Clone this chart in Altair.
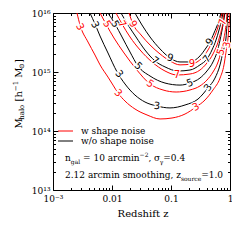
import altair as alt
import pandas as pd

# ---------------- axis ticks ----------------
x_major = [0.001, 0.01, 0.1, 1]
x_major_labels = ["10⁻³", "0.01", "0.1", "1"]
x_minor = [0.002, 0.003, 0.004, 0.005, 0.006, 0.007, 0.008, 0.009,
           0.02, 0.03, 0.04, 0.05, 0.06, 0.07, 0.08, 0.09,
           0.2, 0.3, 0.4, 0.5, 0.6, 0.7, 0.8, 0.9]
y_major = [1e13, 1e14, 1e15, 1e16]
y_major_labels = ["10¹³", "10¹⁴", "10¹⁵", "10¹⁶"]
y_minor = [2e13, 3e13, 4e13, 5e13, 6e13, 7e13, 8e13, 9e13,
           2e14, 3e14, 4e14, 5e14, 6e14, 7e14, 8e14, 9e14,
           2e15, 3e15, 4e15, 5e15, 6e15, 7e15, 8e15, 9e15]

# ---------------- contour curves ----------------
red3_z = [0.00255, 0.00287, 0.00392, 0.00515, 0.00627, 0.00855, 0.0104, 0.01265, 0.0166, 0.0245, 0.0392, 0.0652,
          0.104, 0.173, 0.265, 0.377, 0.515, 0.678, 0.791, 0.855, 0.925, 0.962, 1.0]
red3_M = [1e16, 6.27e15, 3.22e15, 1.94e15, 1.32e15, 8.2e14, 6.0e14, 4.4e14, 3.22e14, 2.36e14, 1.87e14, 1.6e14,
          1.66e14, 1.94e14, 2.55e14, 3.35e14, 4.96e14, 7.9e14, 1.32e15, 2.18e15, 3.77e15, 6.27e15, 1e16]

black3_z = [0.00424, 0.00515, 0.00627, 0.00855, 0.0122, 0.0166, 0.0245, 0.0362, 0.0579, 0.0961, 0.173, 0.287,
            0.424, 0.557, 0.678, 0.760, 0.855, 0.889, 0.925]
black3_M = [1e16, 6.5e15, 4.07e15, 2.1e15, 1.0e15, 6.27e14, 4.07e14, 3.1e14, 2.65e14, 2.46e14, 2.76e14, 3.48e14,
            5.4e14, 7.9e14, 1.32e15, 2.18e15, 3.77e15, 6.27e15, 1e16]

red5_z = [0.00627, 0.0079, 0.0108, 0.016, 0.0255, 0.0441, 0.0731, 0.122, 0.21, 0.31, 0.407, 0.515, 0.627, 0.703,
          0.791, 0.855, 0.889]
red5_M = [1e16, 6.5e15, 3.77e15, 2.1e15, 1.13e15, 6.27e14, 4.96e14, 4.58e14, 4.96e14, 5.8e14, 7.3e14, 1.0e15,
          1.48e15, 2.18e15, 3.77e15, 6.27e15, 1e16]

black5_z = [0.00855, 0.01125, 0.0148, 0.0202, 0.0276, 0.0441, 0.0791, 0.142, 0.21, 0.31, 0.407, 0.515, 0.603,
            0.678, 0.760, 0.822]
black5_M = [1e16, 6.5e15, 3.92e15, 2.18e15, 1.26e15, 8.55e14, 6.5e14, 6.0e14, 6.5e14, 7.9e14, 1.04e15, 1.48e15,
            2.18e15, 3.48e15, 6.27e15, 1e16]

red7_z = [0.0117, 0.0148, 0.0202, 0.0299, 0.0476, 0.0791, 0.1265, 0.21, 0.31, 0.407, 0.515, 0.603, 0.678, 0.760,
          0.791]
red7_M = [1e16, 6.5e15, 3.92e15, 2.36e15, 1.48e15, 1.04e15, 8.9e14, 9.25e14, 1.08e15, 1.42e15, 2.02e15, 2.87e15,
          4.24e15, 7.03e15, 1e16]

black7_z = [0.0142, 0.0187, 0.0255, 0.0362, 0.0536, 0.0791, 0.1315, 0.21, 0.31, 0.407, 0.495, 0.579, 0.652,
            0.731, 0.760]
black7_M = [1e16, 6.27e15, 3.92e15, 2.36e15, 1.54e15, 1.22e15, 1.04e15, 1.08e15, 1.32e15, 1.66e15, 2.36e15,
            3.48e15, 5.15e15, 8.23e15, 1e16]

red9_z = [0.0194, 0.0227, 0.0311, 0.0441, 0.0652, 0.0961, 0.142, 0.227, 0.335, 0.424, 0.515, 0.603, 0.678, 0.731]
red9_M = [1e16, 6.5e15, 4.24e15, 2.87e15, 2.02e15, 1.54e15, 1.32e15, 1.37e15, 1.73e15, 2.36e15, 3.48e15,
          5.15e15, 7.6e15, 1e16]

black9_z = [0.0245, 0.0322, 0.0441, 0.0652, 0.0961, 0.142, 0.21, 0.31, 0.392, 0.458, 0.536, 0.627, 0.703]
black9_M = [1e16, 6.27e15, 3.92e15, 2.46e15, 1.73e15, 1.48e15, 1.48e15, 1.87e15, 2.55e15, 3.22e15, 4.58e15,
            6.78e15, 1e16]

# ---------------- contour labels ----------------
lab_text = ["3", "3", "3", "3", "3", "3", "3", "3",
            "5", "5", "5", "5", "5", "5",
            "7", "7", "7", "7", "7",
            "9", "9", "9", "9"]
lab_color = ["red", "red", "red", "red", "black", "black", "black", "black",
             "red", "red", "red", "black", "black", "black",
             "red", "red", "red", "black", "black",
             "red", "red", "black", "black"]
lab_z = [0.00287, 0.01265, 0.265, 0.89, 0.00515, 0.0132, 0.0579, 0.424,
         0.00822, 0.0441, 0.703, 0.01125, 0.0276, 0.21,
         0.0148, 0.1265, 0.76, 0.0536, 0.407,
         0.0227, 0.227, 0.0961, 0.458]
lab_M = [5.8e15, 4.4e14, 2.55e14, 2.9e15, 6.27e15, 9.25e14, 2.65e14, 5.4e14,
         6.5e15, 6.27e14, 2.18e15, 6.5e15, 1.26e15, 6.5e14,
         6.5e15, 8.9e14, 7.0e15, 1.54e15, 1.66e15,
         6.5e15, 1.37e15, 1.73e15, 3.22e15]
lab_angle = [62, 45, 330, 280, 62, 50, 5, 305,
             58, 35, 290, 58, 45, 340,
             58, 0, 285, 35, 310,
             58, 0, 15, 305]

curves = [
    ("red3", "red", red3_z, red3_M),
    ("black3", "black", black3_z, black3_M),
    ("red5", "red", red5_z, red5_M),
    ("black5", "black", black5_z, black5_M),
    ("red7", "red", red7_z, red7_M),
    ("black7", "black", black7_z, black7_M),
    ("red9", "red", red9_z, red9_M),
    ("black9", "black", black9_z, black9_M),
]
rows = []
for name, col, zs, ms in curves:
    for i, (zv, mv) in enumerate(zip(zs, ms)):
        rows.append({"curve": name, "color": col, "i": i, "z": zv, "M": mv})
df_lines = pd.DataFrame(rows)
df_lab = pd.DataFrame({"level": lab_text, "color": lab_color, "z": lab_z, "M": lab_M, "angle": lab_angle})

SERIF = "DejaVu Serif"
W = H = 177

xs = alt.Scale(type="log", domain=[0.001, 1])
ys = alt.Scale(type="log", domain=[1e13, 1e16])


def size_expr(major):
    return "indexof([" + ",".join(repr(v) for v in major) + "], datum.value) >= 0 ? -5 : -2.5"


def label_expr(major, labels):
    s = ""
    for v, t in zip(major, labels):
        s += "datum.value === " + repr(v) + " ? '" + t + "' : "
    return s + "''"


common = dict(grid=False, domain=False, tickColor="black", tickWidth=1, title=None,
              labelFont=SERIF, labelFontSize=9, labelColor="black", labelOverlap=False)

ax_bottom = alt.Axis(orient="bottom", values=x_major + x_minor, labelExpr=label_expr(x_major, x_major_labels),
                     tickSize={"expr": size_expr(x_major)}, labelPadding=9, labelFlush=False, **common)
ax_top = alt.Axis(orient="top", values=x_major + x_minor, labels=False,
                  tickSize={"expr": size_expr(x_major)}, **common)
ax_left = alt.Axis(orient="left", values=y_major + y_minor, labelExpr=label_expr(y_major, y_major_labels),
                   tickSize={"expr": size_expr(y_major)}, labelPadding=8, labelFlush=False, **common)
ax_right = alt.Axis(orient="right", values=y_major + y_minor, labels=False,
                    tickSize={"expr": size_expr(y_major)}, **common)

lines = alt.Chart(df_lines).mark_line(strokeWidth=1, clip=True, interpolate="monotone").encode(
    x=alt.X("z:Q", scale=xs, axis=ax_bottom),
    y=alt.Y("M:Q", scale=ys, axis=ax_left),
    color=alt.Color("color:N", scale=None),
    detail="curve:N",
    order="i:Q",
)

halo = alt.Chart(df_lab).mark_text(font="DejaVu Sans", fontSize=10, stroke="white", strokeWidth=2.5,
                                   fill="white").encode(
    x=alt.X("z:Q", scale=xs, axis=ax_top),
    y=alt.Y("M:Q", scale=ys, axis=ax_right),
    text="level:N",
    angle=alt.Angle("angle:Q", scale=None),
)

labels = alt.Chart(df_lab).mark_text(font="DejaVu Sans", fontSize=10).encode(
    x=alt.X("z:Q", scale=xs, axis=None),
    y=alt.Y("M:Q", scale=ys, axis=None),
    text="level:N",
    angle=alt.Angle("angle:Q", scale=None),
    color=alt.Color("color:N", scale=None),
)

one = alt.Data(values=[{}])


def seg(text, x, y, size=9, angle=0, align="left", baseline="alphabetic", color="black"):
    return alt.Chart(one).mark_text(text=text, align=align, baseline=baseline, font=SERIF, fontSize=size,
                                    angle=angle, color=color).encode(x=alt.value(x), y=alt.value(y))


def rule(x1, x2, y, color):
    return alt.Chart(one).mark_rule(color=color, strokeWidth=1).encode(
        x=alt.value(x1), x2=alt.value(x2), y=alt.value(y))


extras = [
    rule(5, 20, 118, "red"),
    rule(5, 20, 128, "black"),
    seg("w shape noise", 28, 117.5, baseline="middle"),
    seg("w/o shape noise", 28, 127.5, baseline="middle"),
    # n_gal = 10 arcmin^-2, sigma_gamma = 0.4
    seg("n", 12, 148),
    seg("gal", 17.8, 150.5, size=6),
    seg("= 10 arcmin", 30, 148),
    seg("−2", 86.6, 144, size=6),
    seg(", σ", 95.4, 148),
    seg("γ", 106.8, 150.5, size=6),
    seg("=0.4", 110.3, 148),
    # 2.12 arcmin smoothing, z_source=1.0
    seg("2.12 arcmin smoothing, z", 12, 165),
    seg("source", 127.9, 167.5, size=6),
    seg("=1.0", 148.2, 165),
    # x title
    seg("Redshift z", 90, 200.5, size=10, align="center", baseline="middle"),
    # y title  M_halo [h^-1 M_sun]
    seg("M", -31.5, 115.5, size=10, angle=270),
    seg("halo", -29, 106.8, size=7, angle=270),
    seg("[h", -31.5, 88.5, size=10, angle=270),
    seg("−1", -35.5, 78.2, size=7, angle=270),
    seg("M", -31.5, 64.7, size=10, angle=270),
    seg("⊙", -29, 56, size=7, angle=270),
    seg("]", -31.5, 50.1, size=10, angle=270),
]

chart = alt.layer(lines, halo, labels, *extras).resolve_axis(
    x="independent", y="independent"
).properties(
    width=W, height=H,
    padding={"left": 45, "top": 5, "right": 2, "bottom": 42},
    autosize=alt.AutoSizeParams(type="none"),
).configure_view(stroke="black", strokeWidth=1)

chart.save("out.html", embed_options={"renderer": "svg", "actions": False})
